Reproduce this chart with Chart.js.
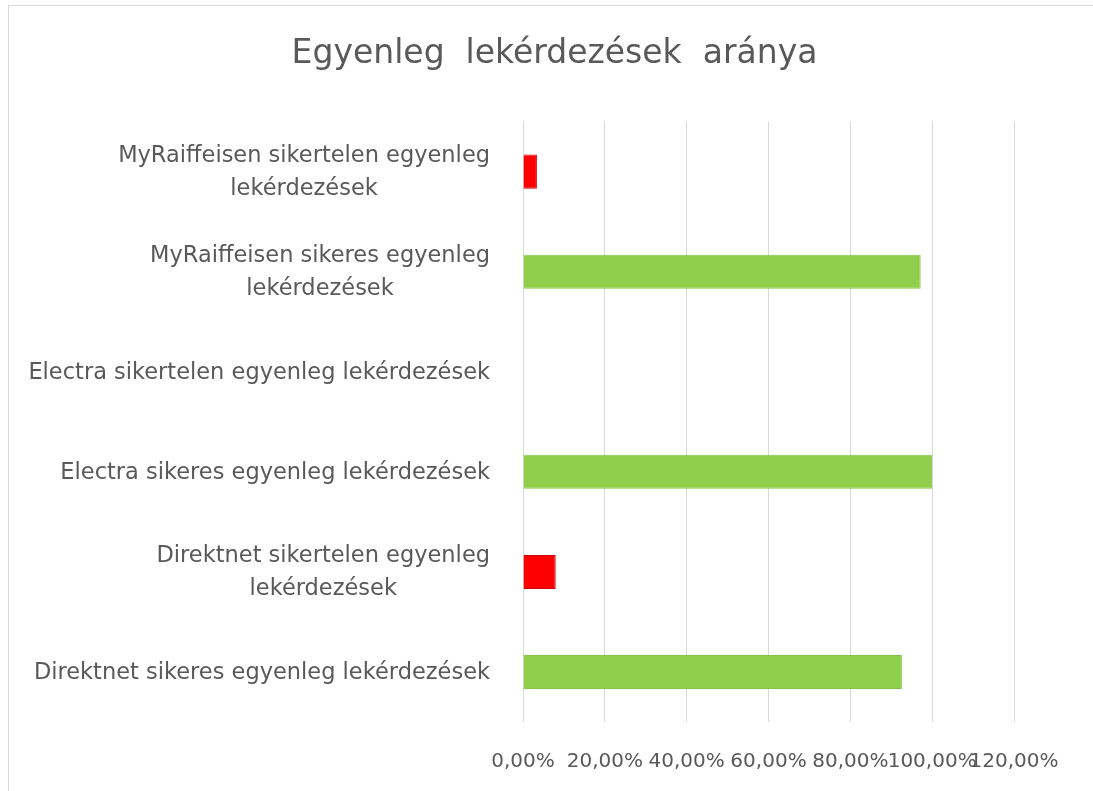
<!DOCTYPE html>
<html>
<head>
<meta charset="utf-8">
<title>Egyenleg lekérdezések aránya</title>
<script src="https://cdn.jsdelivr.net/npm/chart.js@4.4.0/dist/chart.umd.min.js"></script>
<style>
    html, body { margin: 0; padding: 0; background: #fff; overflow: hidden; }
    #frame {
        position: absolute; left: 8px; top: 5px; width: 1084px; height: 785px;
        border-left: 1px solid #d9d9d9; border-top: 1px solid #d9d9d9;
    }
    #chartBox { position: absolute; left: 0; top: 0; width: 1093px; height: 791px; }
</style>
</head>
<body>
<div id="frame"></div>
<div id="chartBox"><canvas id="balanceChart" width="1093" height="791"></canvas></div>
<script>
// chart data, top row first
const categories = [
    ['MyRaiffeisen sikertelen egyenleg', 'lekérdezések'],
    ['MyRaiffeisen sikeres egyenleg', 'lekérdezések'],
    ['Electra sikertelen egyenleg lekérdezések'],
    ['Electra sikeres egyenleg lekérdezések'],
    ['Direktnet sikertelen egyenleg', 'lekérdezések'],
    ['Direktnet sikeres egyenleg lekérdezések']
];
const shares = [3.4, 97.2, 0, 100, 8.0, 92.6]; // percent
const xTickLabels = ['0,00%', '20,00%', '40,00%', '60,00%', '80,00%', '100,00%', '120,00%'];

const textColor = '#595959';
const fontFamily = '"DejaVu Sans", "Open Sans", sans-serif';

// Excel style labels: block right aligned, lines centered inside the block
const categoryLabels = {
    id: 'categoryLabels',
    afterDraw(chart) {
        const ctx = chart.ctx;
        const yScale = chart.scales.y;
        const rightEdge = chart.chartArea.left - 33;
        const lineHeight = 33;
        ctx.save();
        ctx.font = '22.5px ' + fontFamily;
        ctx.fillStyle = textColor;
        ctx.textAlign = 'center';
        ctx.textBaseline = 'middle';
        categories.forEach((lines, i) => {
            const cy = yScale.getPixelForValue(i) + 1;
            const maxW = Math.max(...lines.map(l => ctx.measureText(l).width));
            const cx = rightEdge - maxW / 2;
            lines.forEach((line, j) => {
                ctx.fillText(line, cx, cy + (j - (lines.length - 1) / 2) * lineHeight);
            });
        });
        ctx.restore();
    }
};

const ctx = document.getElementById('balanceChart').getContext('2d');
new Chart(ctx, {
    type: 'bar',
    data: {
        labels: categories.map(c => c.join(' ')),
        datasets: [{
            data: shares,
            backgroundColor: c => c.chart.data.labels[c.dataIndex].includes('sikertelen') ? '#ff0000' : '#8fcf4c',
            borderColor: c => c.chart.data.labels[c.dataIndex].includes('sikertelen') ? '#d00000' : '#86c446',
            borderWidth: 1,
            barPercentage: 0.34,
            categoryPercentage: 1
        }]
    },
    options: {
        indexAxis: 'y',
        responsive: false,
        animation: false,
        layout: { padding: { left: 95, right: 79, top: 20, bottom: 0 } },
        plugins: {
            legend: { display: false },
            tooltip: { enabled: false },
            title: {
                display: true,
                text: 'Egyenleg  lekérdezések  aránya',
                color: textColor,
                font: { family: fontFamily, size: 33, weight: 'normal' },
                padding: { top: 15, bottom: 47 }
            }
        },
        scales: {
            x: {
                min: 0,
                max: 120,
                ticks: {
                    stepSize: 20,
                    color: textColor,
                    font: { family: fontFamily, size: 20 },
                    padding: 28,
                    maxRotation: 0,
                    autoSkip: false,
                    callback: (v, i) => xTickLabels[i]
                },
                grid: { color: '#d9d9d9', lineWidth: 1, drawTicks: false },
                border: { display: false },
                afterFit: scale => { scale.height = 69; }
            },
            y: {
                ticks: { display: false },
                grid: { display: false },
                border: { display: false },
                afterFit: scale => { scale.width = 428; }
            }
        }
    },
    plugins: [categoryLabels]
});
</script>
</body>
</html>
